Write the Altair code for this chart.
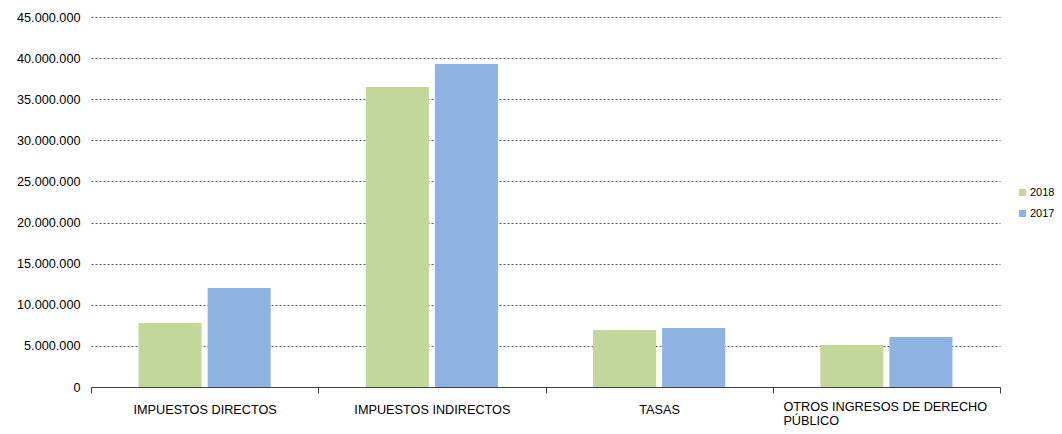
import altair as alt
import pandas as pd

categories = [
    "IMPUESTOS DIRECTOS",
    "IMPUESTOS INDIRECTOS",
    "TASAS",
    "OTROS INGRESOS DE DERECHO PÚBLICO",
]
years = ["2018", "2017"]
values_2018 = [7_780_000, 36_490_000, 6_930_000, 5_110_000]
values_2017 = [12_040_000, 39_280_000, 7_180_000, 6_080_000]
y_ticks = [0, 5_000_000, 10_000_000, 15_000_000, 20_000_000, 25_000_000,
           30_000_000, 35_000_000, 40_000_000, 45_000_000]
colors = ["#C4D79B", "#8DB3E2"]

rows = []
for cat, v18, v17 in zip(categories, values_2018, values_2017):
    rows.append({"categoria": cat, "anio": "2018", "valor": v18})
    rows.append({"categoria": cat, "anio": "2017", "valor": v17})
df = pd.DataFrame(rows)
cat_df = pd.DataFrame({"categoria": categories})

FONT = "Liberation Sans"
LABEL_SIZE = 12.7
IS_LONG = "length(datum.categoria) > 24"

x_enc = alt.X(
    "categoria:N", sort=categories, title=None,
    scale=alt.Scale(paddingInner=0, paddingOuter=0),
    axis=alt.Axis(
        labelAngle=0, tickBand="extent", ticks=True, tickSize=6,
        tickColor="#404040", domainColor="#404040", domainWidth=1,
        labelExpr="length(datum.label) > 24 ? '' : datum.label",
        labelLimit=400, labelPadding=10, labelFontSize=LABEL_SIZE,
        labelColor="#000000", labelFont=FONT, grid=False,
    ),
)

bars = alt.Chart(df).mark_bar().encode(
    x=x_enc,
    xOffset=alt.XOffset(
        "anio:N", sort=years,
        scale=alt.Scale(paddingInner=0.087, paddingOuter=0.688),
    ),
    y=alt.Y(
        "valor:Q", title=None,
        scale=alt.Scale(domain=[0, 45_000_000], nice=False),
        axis=alt.Axis(
            values=y_ticks,
            labelExpr="replace(format(datum.value, ','), regexp(',', 'g'), '.')",
            domain=False, ticks=False, labelPadding=11,
            labelFontSize=LABEL_SIZE, labelColor="#000000", labelFont=FONT,
            gridDash=[2, 2], gridColor="#595959", gridWidth=1,
        ),
    ),
    color=alt.Color(
        "anio:N", sort=years,
        scale=alt.Scale(domain=years, range=colors),
        legend=alt.Legend(
            title=None, orient="none", legendX=926, legendY=170,
            symbolType="square", symbolSize=49, symbolStrokeWidth=0,
            labelFontSize=11, labelFont=FONT, labelColor="#000000",
            labelOffset=2, rowPadding=9, padding=0,
        ),
    ),
)

# wrapped, flush-left label for the long category (as in the original)
long_label = alt.Chart(cat_df).transform_filter(IS_LONG).transform_calculate(
    lines="[slice(datum.categoria, 0, lastindexof(datum.categoria, ' ')), "
          "slice(datum.categoria, lastindexof(datum.categoria, ' ') + 1)]"
).mark_text(
    align="left", baseline="top", dx=-103, font=FONT,
    fontSize=LABEL_SIZE, color="#000000", lineHeight=13.5,
).encode(
    x=alt.X("categoria:N", sort=categories, title=None),
    y=alt.value(384),
    text="lines:N",
)

chart = alt.layer(bars, long_label).properties(
    width=909, height=370,
    autosize=alt.AutoSizeParams(type="none"),
    padding={"left": 83, "top": 9, "right": 54, "bottom": 39},
).configure_view(stroke=None)

chart.save("out.html", embed_options={"renderer": "svg", "actions": False})
